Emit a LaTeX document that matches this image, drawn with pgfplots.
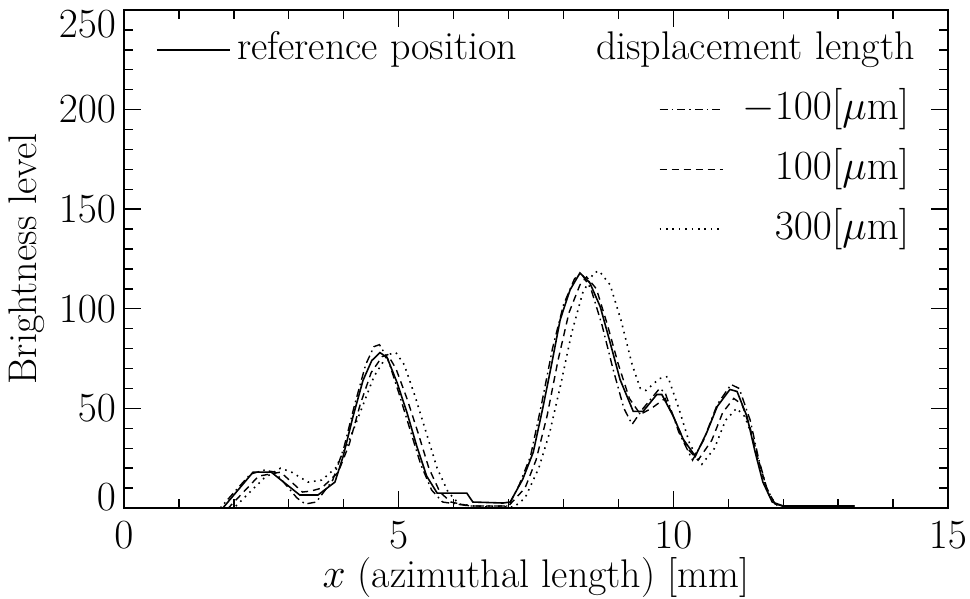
\documentclass[border=0pt]{standalone}
\usepackage{pgfplots}
\pgfplotsset{compat=1.18}

% line styles for the four profiles
\tikzset{
  refline/.style={black, line width=0.8pt},
  mline/.style={black, line width=0.7pt, dash pattern=on 4pt off 2pt on 0.8pt off 2pt},
  pline/.style={black, line width=0.7pt, dash pattern=on 3.5pt off 2.5pt},
  dline/.style={black, line width=0.8pt, dash pattern=on 0.8pt off 2.4pt},
  txt/.style={inner sep=0pt, font=\fontsize{20}{24}\selectfont},
}

\begin{document}
\begin{tikzpicture}
\begin{axis}[
  scale only axis,
  width=412pt, height=249pt,
  xmin=0, xmax=15, ymin=0, ymax=250,
  clip=false,
  xtick={0,5,10,15},
  minor xtick={1,2,3,4,6,7,8,9,11,12,13,14},
  ytick={50,100,150,200},
  minor ytick={10,20,...,240},
  extra y ticks={0,250},
  extra y tick labels={\raisebox{-1.3pt}[0pt][0pt]{$0$},\raisebox{-13.8pt}[0pt][0pt]{$250$}},
  tick align=inside,
  major tick length=8.5pt, minor tick length=4.5pt,
  axis line style={line width=0.9pt},
  every tick/.style={black, line width=0.7pt},
  tick label style={font=\fontsize{19.5}{23}\selectfont},
  xticklabel style={yshift=-3.5pt},
  yticklabel style={xshift=-0.5pt},
  xlabel={$x$ (azimuthal length) [mm]},
  ylabel={Brightness level},
  label style={font=\fontsize{20}{24}\selectfont},
  xlabel style={at={(axis description cs:0.5,-0.1406)}, anchor=center},
  ylabel style={at={(axis description cs:-0.1177,0.5)}, anchor=center},
]
\coordinate (bl) at (rel axis cs:0,0);
\coordinate (tr) at (rel axis cs:1,1);

% reference position
\addplot[refline] coordinates {
(1.0,0) (1.80,0) (2.35,18) (2.68,18) (3.20,6.5) (3.53,6.5) (3.84,13) (3.99,26)
(4.17,46) (4.35,64) (4.51,74) (4.66,78) (4.79,75.5) (4.97,63) (5.15,48) (5.33,31)
(5.51,16) (5.70,7.5) (6.24,7.5) (6.35,3) (6.90,2.5) (7.03,3) (7.26,14.5) (7.45,28)
(7.63,51) (7.79,73) (7.94,94.5) (8.12,109.5) (8.30,118) (8.48,113) (8.67,101)
(8.85,83) (9.03,64.5) (9.27,48.5) (9.45,48.5) (9.70,57) (9.79,57) (10.00,46)
(10.18,34.5) (10.40,26) (10.61,38) (10.80,51) (11.03,59.5) (11.16,58.5) (11.34,46)
(11.49,28) (11.63,13) (11.80,3) (12.00,1) (13.30,1)
};

% displacement -100 um
\addplot[mline] coordinates {
(1.0,0) (1.75,0) (2.30,17) (2.55,19) (2.75,18) (3.15,5) (3.30,2) (3.50,3)
(3.80,14) (4.00,30) (4.20,52) (4.40,72) (4.55,81) (4.65,82) (4.80,75) (5.00,58)
(5.20,40) (5.40,22) (5.60,9) (5.80,3) (6.30,1) (7.00,1) (7.20,12) (7.40,26)
(7.60,52) (7.80,80) (8.00,102) (8.20,115) (8.32,118) (8.50,110) (8.70,92)
(8.90,70) (9.10,50) (9.25,42) (9.45,50) (9.75,60) (9.85,58) (10.10,38)
(10.35,24) (10.55,34) (10.80,52) (11.05,62) (11.20,60) (11.40,44) (11.55,25)
(11.70,10) (11.85,2) (12.00,1) (13.30,1)
};

% displacement 100 um
\addplot[pline] coordinates {
(1.0,0) (1.90,0) (2.45,16) (2.85,18) (3.25,8) (3.40,8.5) (3.60,10) (3.90,18)
(4.10,32) (4.30,52) (4.50,68) (4.70,76) (4.80,77) (4.95,70) (5.15,55) (5.35,38)
(5.55,20) (5.75,8) (5.95,3) (6.30,1) (7.00,1) (7.30,10) (7.50,24) (7.70,46)
(7.90,74) (8.10,98) (8.30,112) (8.42,116) (8.60,110) (8.80,92) (9.00,72)
(9.20,55) (9.40,47) (9.60,50) (9.85,55) (10.00,46) (10.25,30) (10.45,24)
(10.70,34) (10.90,48) (11.10,55) (11.25,52) (11.40,40) (11.55,24) (11.70,10)
(11.85,2) (12.00,1) (13.30,1)
};

% displacement 300 um
\addplot[dline] coordinates {
(1.0,0) (2.00,0) (2.55,15) (2.85,20) (3.05,18) (3.35,13) (3.60,14) (3.85,20)
(4.10,34) (4.30,48) (4.55,66) (4.80,77) (4.95,78) (5.10,72) (5.30,56) (5.50,38)
(5.70,20) (5.90,8) (6.10,2) (6.50,0.5) (7.10,0.5) (7.30,5) (7.55,20) (7.75,38)
(7.95,62) (8.15,88) (8.35,108) (8.55,118) (8.65,119) (8.85,112) (9.05,94)
(9.25,72) (9.40,60) (9.50,59) (9.75,65) (9.90,66) (10.10,50) (10.30,32)
(10.52,22) (10.75,30) (10.95,44) (11.15,50) (11.30,46) (11.45,35) (11.60,18)
(11.75,6) (11.90,1) (13.30,1)
};

% key
\draw[refline] (axis cs:0.60,230) -- (axis cs:1.93,230);
\node[txt, anchor=west] at (axis cs:2.05,230) {reference position};
\node[txt, anchor=east] at (axis cs:14.40,230) {displacement length};
\draw[mline] (axis cs:9.75,200) -- (axis cs:10.90,200);
\node[txt, anchor=east] at (axis cs:14.30,200) {$-100[\mu\mathrm{m}]$};
\draw[pline] (axis cs:9.75,170) -- (axis cs:10.90,170);
\node[txt, anchor=east] at (axis cs:14.30,170) {$100[\mu\mathrm{m}]$};
\draw[dline] (axis cs:9.75,140) -- (axis cs:10.90,140);
\node[txt, anchor=east] at (axis cs:14.30,140) {$300[\mu\mathrm{m}]$};
\end{axis}
\pgfresetboundingbox
\path[use as bounding box] ([xshift=-62pt,yshift=-45.5pt]bl) rectangle ([xshift=11pt,yshift=5pt]tr);
\end{tikzpicture}
\end{document}
